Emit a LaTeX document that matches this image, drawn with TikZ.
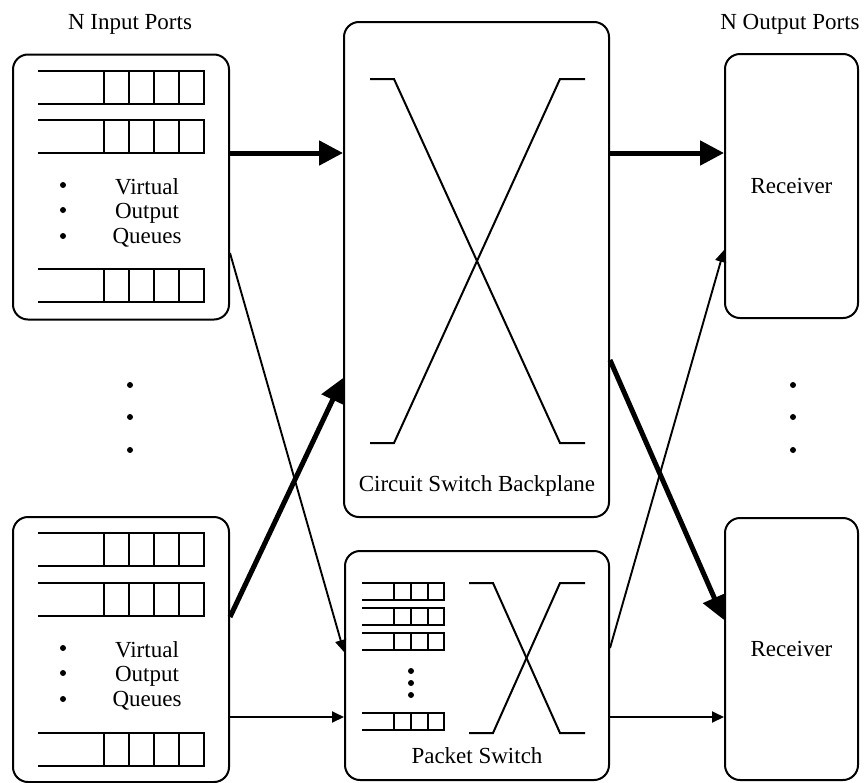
\documentclass[tikz,border=0pt]{standalone}
\usepackage{fontspec}
\setmainfont{Liberation Serif}
\usetikzlibrary{arrows.meta}

% one virtual output queue, open at the left (left x, top y)
\newcommand{\voqrow}[2]{%
  \draw[qline] (#1,#2) -- ++(166,0) -- ++(0,33) -- ++(-166,0);
  \foreach \dx in {66,91,116,141} \draw[qline] (#1+\dx,#2) -- ++(0,33);
}
% small queue inside the packet switch
\newcommand{\psqrow}[2]{%
  \draw[qline] (#1,#2) -- ++(82,0) -- ++(0,17) -- ++(-82,0);
  \foreach \dx in {32,49,66} \draw[qline] (#1+\dx,#2) -- ++(0,17);
}

\begin{document}
\begin{tikzpicture}[
  x=1pt,y=-1pt,
  every node/.style={font=\fontsize{23}{24.5}\selectfont},
  portbox/.style={draw,line width=2pt,rounded corners=15pt,minimum width=216pt,minimum height=265pt,inner sep=0pt},
  switchbox/.style={draw,line width=2pt,rounded corners=15pt,minimum width=265pt,inner sep=0pt},
  rxbox/.style={draw,line width=2pt,rounded corners=15pt,minimum width=133pt,minimum height=264pt,inner sep=0pt},
  qline/.style={line width=2pt},
  xline/.style={line width=2pt},
  bigarrow/.style={-{Triangle[length=24pt,width=24pt]},line width=5pt},
  smallarrow/.style={-{Triangle[length=12pt,width=11pt]},line width=1.9pt}
]
  \useasboundingbox (0,0) rectangle (867,782);

  % input ports
  \node[portbox] (in1) at (121,187) {};
  \node[portbox] (in2) at (121,649.5) {};
  \node[anchor=base] (inlabel) at (130,29.5) {N Input Ports};

  \voqrow{38}{70.7}
  \voqrow{38}{120}
  \voqrow{38}{269}
  \voqrow{38}{533}
  \voqrow{38}{583}
  \voqrow{38}{733}

  \node[anchor=base,align=center] (voq1) at (147,243) {Virtual\\Output\\Queues};
  \node[anchor=base,align=center] (voq2) at (147,706) {Virtual\\Output\\Queues};
  \foreach \y in {185,210,236,648,673,699} \fill (63,\y) circle (3pt);

  % dots between ports
  \foreach \y in {385,417,450} {
    \fill (130,\y) circle (3pt);
    \fill (793,\y) circle (3pt);
  }

  % circuit switch
  \node[switchbox,minimum height=495pt] (cs) at (476.5,269.5) {};
  \draw[xline] (370,79) -- (394,79) -- (560,443) -- (585,443);
  \draw[xline] (585,79) -- (560,79) -- (394,443) -- (370,443);
  \node[anchor=base] (cslabel) at (477,491) {Circuit Switch Backplane};

  % packet switch
  \node[switchbox,minimum width=264pt,minimum height=229pt] (ps) at (477,665.5) {};
  \psqrow{362}{583}
  \psqrow{362}{608}
  \psqrow{362}{633}
  \psqrow{362}{713}
  \foreach \y in {671,683,695} \fill (411,\y) circle (3pt);
  \draw[xline] (469,583) -- (493,583) -- (560,733) -- (585,733);
  \draw[xline] (585,583) -- (560,583) -- (493,733) -- (469,733);
  \node[anchor=base] (pslabel) at (477,763) {Packet Switch};

  % output ports
  \node[rxbox] (rx1) at (791.5,186) {Receiver};
  \node[rxbox,minimum height=262pt] (rx2) at (791.5,649) {Receiver};
  \node[anchor=base] (outlabel) at (790,29.5) {N Output Ports};

  % connections
  \draw[bigarrow] (in1.east |- 0,153) -- (cs.west |- 0,153);
  \draw[bigarrow] (cs.east |- 0,153) -- (rx1.west |- 0,153);
  \draw[bigarrow] (in2.east |- 0,617) -- (cs.west |- 0,378);
  \draw[bigarrow] (cs.east |- 0,360) -- (rx2.west |- 0,620);
  \draw[smallarrow] (in1.east |- 0,253) -- (ps.west |- 0,652);
  \draw[smallarrow] (in2.east |- 0,717) -- (ps.west |- 0,717);
  \draw[smallarrow] (ps.east |- 0,648) -- (rx1.west |- 0,250);
  \draw[smallarrow] (ps.east |- 0,717) -- (rx2.west |- 0,717);
\end{tikzpicture}
\end{document}
